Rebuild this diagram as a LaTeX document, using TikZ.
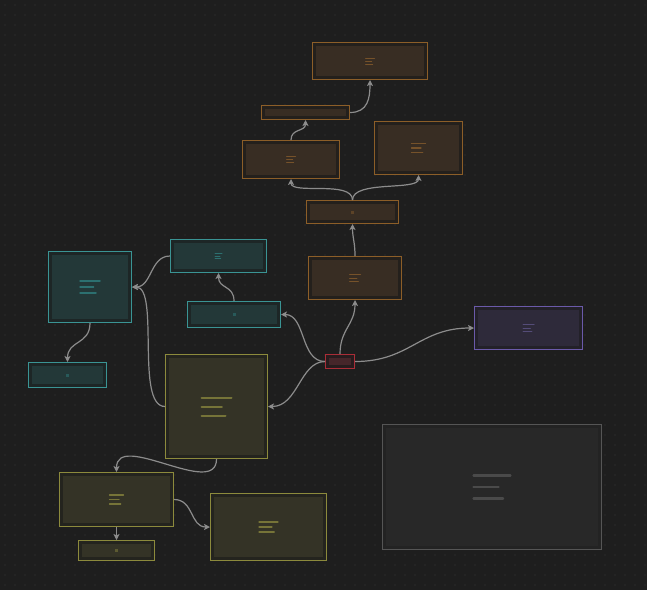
\documentclass[tikz,border=0pt]{standalone}
\usepackage{tikz}
\usetikzlibrary{
	positioning,
	arrows.meta,
	calc
}

\definecolor{canvas}{RGB}{30,30,30}
\definecolor{griddot}{RGB}{46,46,46}
\definecolor{wire}{RGB}{140,140,140}
\definecolor{orline}{RGB}{140,94,40}
\definecolor{orgap}{RGB}{36,32,28}
\definecolor{orfill}{RGB}{56,45,35}
\definecolor{orbar}{RGB}{118,82,42}
\definecolor{tlline}{RGB}{58,148,148}
\definecolor{tlgap}{RGB}{29,38,38}
\definecolor{tlfill}{RGB}{35,56,56}
\definecolor{tlbar}{RGB}{44,112,112}
\definecolor{olline}{RGB}{140,138,60}
\definecolor{olgap}{RGB}{36,36,30}
\definecolor{olfill}{RGB}{52,51,38}
\definecolor{olbar}{RGB}{118,116,56}
\definecolor{ppline}{RGB}{107,90,170}
\definecolor{ppgap}{RGB}{35,33,41}
\definecolor{ppfill}{RGB}{46,42,58}
\definecolor{ppbar}{RGB}{84,76,120}
\definecolor{rdline}{RGB}{170,45,55}
\definecolor{rdgap}{RGB}{40,28,30}
\definecolor{rdfill}{RGB}{70,38,42}
\definecolor{gyline}{RGB}{85,85,85}
\definecolor{gygap}{RGB}{35,35,35}
\definecolor{gyfill}{RGB}{40,40,40}
\definecolor{gybar}{RGB}{74,74,74}

\newcommand{\bars}[5]{%
	\draw[#4,line width=#5,line cap=round]
		($(#1.center)+(-#2/2,-#3)$) -- ++(#2,0)
		($(#1.center)+(-#2/2,0)$) -- ++(0.68*#2,0)
		($(#1.center)+(-#2/2,#3)$) -- ++(0.8*#2,0);}
\newcommand{\pip}[2]{%
	\fill[#2] ($(#1.center)+(-1.5,-1.5)$) rectangle ++(3,3);}

\begin{document}
\begin{tikzpicture}[
			x=1pt, y=-1pt,
			card/.style n args={3}{
				draw=#1,
				fill=#2,
				line width=1pt,
				inner sep=0pt,
				path picture={\fill[#3]
					([shift={(3.5pt,-3.5pt)}]path picture bounding box.north west)
					rectangle
					([shift={(-3.5pt,3.5pt)}]path picture bounding box.south east);}
			},
			orblock/.style={card={orline}{orgap}{orfill}},
			tlblock/.style={card={tlline}{tlgap}{tlfill}},
			olblock/.style={card={olline}{olgap}{olfill}},
			ppblock/.style={card={ppline}{ppgap}{ppfill}},
			rdblock/.style={card={rdline}{rdgap}{rdfill}},
			gyblock/.style={card={gyline}{gygap}{gyfill}},
			arrow/.style={-{Stealth[length=6pt,width=6pt,inset=1.5pt]},draw=wire,line width=1.2pt}
			]
			
			\fill[canvas] (0,0) rectangle (647,590);
			\useasboundingbox (0,0) rectangle (647,590);
			\fill[griddot] \foreach \i in {0,...,64} {\foreach \j in {0,...,58}
				{(4.3+10*\i,4.3+10*\j) rectangle ++(1.4,1.4)}};
			
			\node[orblock,minimum width=115,minimum height=37] (ortop) at (370,61) {};
			\node[orblock,minimum width=88,minimum height=14] (orstrip) at (305.5,112.5) {};
			\node[orblock,minimum width=97,minimum height=38] (orleft) at (291,159.5) {};
			\node[orblock,minimum width=88,minimum height=53] (orright) at (418.5,148) {};
			\node[orblock,minimum width=92,minimum height=23] (orhub) at (352.5,212) {};
			\node[orblock,minimum width=93,minimum height=43] (orlow) at (355,278) {};
			
			\node[tlblock,minimum width=83,minimum height=71] (tlbig) at (90,287) {};
			\node[tlblock,minimum width=96,minimum height=33] (tltop) at (218.5,256) {};
			\node[tlblock,minimum width=93,minimum height=26] (tlmid) at (234,314.5) {};
			\node[tlblock,minimum width=78,minimum height=25] (tlsmall) at (67.5,375) {};
			
			\node[rdblock,minimum width=29,minimum height=14] (source) at (340,361.5) {};
			\node[ppblock,minimum width=108,minimum height=43] (ppnode) at (528.5,328) {};
			
			\node[olblock,minimum width=102,minimum height=104] (olbig) at (216.5,406.5) {};
			\node[olblock,minimum width=114,minimum height=54] (olleft) at (116.5,499.5) {};
			\node[olblock,minimum width=76,minimum height=20] (olsmall) at (116.5,550.5) {};
			\node[olblock,minimum width=116,minimum height=67] (olright) at (268.5,527) {};
			
			\node[gyblock,minimum width=219,minimum height=125] (note) at (492,487) {};
			
			\bars{ortop}{9}{3}{orbar}{1pt}
			\bars{orleft}{9}{3}{orbar}{1pt}
			\bars{orright}{14}{4.3}{orbar}{1.2pt}
			\bars{orlow}{11}{3.5}{orbar}{1pt}
			\bars{tltop}{7}{2.7}{tlbar}{1pt}
			\bars{tlbig}{20}{6}{tlbar}{1.5pt}
			\bars{ppnode}{11}{3.5}{ppbar}{1pt}
			\bars{olbig}{30}{9}{olbar}{2pt}
			\bars{olleft}{14}{4.5}{olbar}{1.2pt}
			\bars{olright}{19}{5}{olbar}{1.3pt}
			\bars{note}{37}{11.5}{gybar}{2.2pt}
			\pip{orhub}{orbar!60!orfill}
			\pip{tlmid}{tlbar!60!tlfill}
			\pip{tlsmall}{tlbar!60!tlfill}
			\pip{olsmall}{olbar!60!olfill}
			
			\draw[arrow] (orstrip.east) .. controls +(18,0) and +(0,18) .. (ortop.south);
			\draw[arrow] (orleft.north) .. controls +(0,-12) and +(0,12) .. (orstrip.south);
			\draw[arrow] (orhub.north) .. controls +(0,-20) and +(0,16) .. (orleft.south);
			\draw[arrow] (orhub.north) .. controls +(0,-20) and +(0,16) .. (orright.south);
			\draw[arrow] (orlow.north) .. controls +(0,-14) and +(0,14) .. (orhub.south);
			\draw[arrow] (source.north) .. controls +(0,-25) and +(0,25) .. (orlow.south);
			\draw[arrow] (source.east) .. controls +(55,0) and +(-55,0) .. (ppnode.west);
			\draw[arrow] (source.west) .. controls +(-25,0) and +(25,0) .. (tlmid.east);
			\draw[arrow] (source.west) .. controls +(-25,0) and +(30,0) .. (olbig.east);
			\draw[arrow] (tlmid.north) .. controls +(0,-16) and +(0,16) .. (tltop.south);
			\draw[arrow] (tltop.west) .. controls +(-20,0) and +(20,0) .. (tlbig.east);
			\draw[arrow] (olbig.west) .. controls +(-30,0) and +(28,0) .. (tlbig.east);
			\draw[arrow] (tlbig.south) .. controls +(0,22) and +(0,-22) .. (tlsmall.north);
			\draw[arrow] (olbig.south) .. controls +(0,40) and +(0,-42) .. (olleft.north);
			\draw[arrow] (olleft.east) .. controls +(20,0) and +(-20,0) .. (olright.west);
			\draw[arrow] (olleft.south) -- (olsmall.north);
			
		\end{tikzpicture}
\end{document}
